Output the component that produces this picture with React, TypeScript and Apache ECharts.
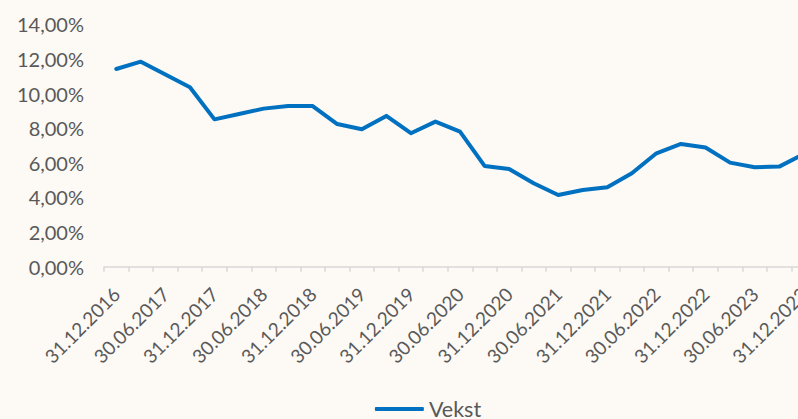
import React, { useEffect, useRef } from "react";
import * as echarts from "echarts";

const categories = [
  "31.12.2016", "31.03.2017", "30.06.2017", "30.09.2017",
  "31.12.2017", "31.03.2018", "30.06.2018", "30.09.2018",
  "31.12.2018", "31.03.2019", "30.06.2019", "30.09.2019",
  "31.12.2019", "31.03.2020", "30.06.2020", "30.09.2020",
  "31.12.2020", "31.03.2021", "30.06.2021", "30.09.2021",
  "31.12.2021", "31.03.2022", "30.06.2022", "30.09.2022",
  "31.12.2022", "31.03.2023", "30.06.2023", "30.09.2023",
  "31.12.2023",
];

const vekst = [
  11.42, 11.84, 11.1, 10.36,
  8.51, 8.82, 9.13, 9.28,
  9.28, 8.24, 7.94, 8.71,
  7.71, 8.38, 7.8, 5.82,
  5.64, 4.82, 4.14, 4.43,
  4.59, 5.4, 6.55, 7.09,
  6.88, 6.01, 5.74, 5.78,
  6.5,
];

const yTicks = { min: 0, max: 14, interval: 2 };

const FONT = "Lato";
const TEXT = "#595959";

export default function App() {
  const ref = useRef<HTMLDivElement>(null);
  useEffect(() => {
    if (!ref.current) return;
    const chart = echarts.init(ref.current, undefined, { renderer: "svg" });
    chart.setOption({
      animation: false,
      backgroundColor: "#FDF9F5",
      textStyle: { fontFamily: FONT },
      grid: { left: 104, right: 40, top: 24.3, bottom: 152.3 },
      legend: {
        top: 398,
        left: "center",
        padding: 0,
        icon: "roundRect",
        itemWidth: 49,
        itemHeight: 4,
        itemGap: 10,
        textStyle: { fontFamily: FONT, fontSize: 21.5, lineHeight: 20, color: TEXT },
        data: ["Vekst"],
      },
      xAxis: {
        type: "category",
        data: categories,
        boundaryGap: true,
        axisLine: { lineStyle: { color: "#D9D9D9", width: 1.5 } },
        axisTick: { show: true, interval: 0, length: 5, lineStyle: { color: "#D9D9D9", width: 1.5 } },
        axisLabel: {
          interval: 1,
          rotate: 45,
          margin: 24,
          fontFamily: FONT,
          fontSize: 19,
          color: TEXT,
        },
      },
      yAxis: {
        type: "value",
        min: yTicks.min,
        max: yTicks.max,
        interval: yTicks.interval,
        axisLine: { show: false },
        axisTick: { show: false },
        splitLine: { show: false },
        axisLabel: {
          margin: 20,
          fontFamily: FONT,
          fontSize: 20,
          color: TEXT,
          formatter: (v: number) => v.toFixed(2).replace(".", ",") + "%",
        },
      },
      series: [
        {
          name: "Vekst",
          type: "line",
          data: vekst,
          symbol: "none",
          lineStyle: { color: "#0070C0", width: 4, join: "round", cap: "round" },
          itemStyle: { color: "#0070C0" },
        },
      ],
    });
    return () => chart.dispose();
  }, []);
  return (
    <div
      style={{
        position: "fixed",
        left: 0,
        top: 0,
        width: 798,
        height: 419,
        overflow: "hidden",
        background: "#FDF9F5",
      }}
    >
      <div ref={ref} style={{ width: 856, height: 419 }} />
    </div>
  );
}
